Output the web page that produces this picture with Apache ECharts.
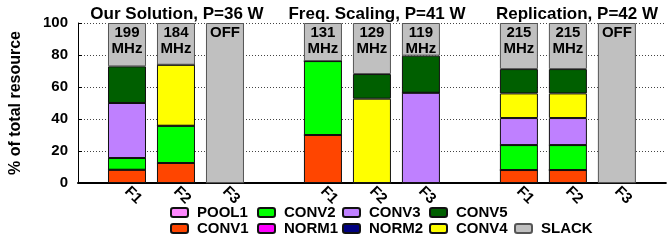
<!DOCTYPE html>
<html>
<head>
<meta charset="utf-8">
<script src="https://cdn.jsdelivr.net/npm/echarts@6/dist/echarts.min.js"></script>
<style>
  html, body { margin: 0; padding: 0; background: #fff; }
  #chart { width: 668px; height: 243px; }
</style>
</head>
<body>
<div id="chart"></div>
<script>
// slots: leading empty, then 3 groups of F1..F3 separated by empty slots
const categories = ['', 'F1', 'F2', 'F3', '', 'F1', 'F2', 'F3', '', 'F1', 'F2', 'F3', '']
const groupTitles = ['Our Solution, P=36 W', 'Freq. Scaling, P=41 W', 'Replication, P=42 W']
const freqLabels = ['', '199\nMHz', '184\nMHz', 'OFF', '', '131\nMHz', '129\nMHz', '119\nMHz', '', '215\nMHz', '215\nMHz', 'OFF', '']

// % of total resource per layer, bottom to top
const conv1 = [null, 8.3, 12.5, 0, null, 30.0, 0, 0, null, 8.1, 8.1, 0, null]
const pool1 = [null, 0, 0, 0, null, 0, 0, 0, null, 0, 0, 0, null]
const norm1 = [null, 0, 0, 0, null, 0, 0, 0, null, 0, 0, 0, null]
const conv2 = [null, 7.3, 23.3, 0, null, 46.2, 0, 0, null, 15.6, 15.6, 0, null]
const norm2 = [null, 0, 0, 0, null, 0, 0, 0, null, 0, 0, 0, null]
const conv3 = [null, 34.4, 0, 0, null, 0, 0, 56.4, null, 16.9, 16.9, 0, null]
const conv4 = [null, 0, 38.1, 0, null, 0, 52.7, 0, null, 15.4, 15.4, 0, null]
const conv5 = [null, 22.9, 0, 0, null, 0, 15.4, 23.2, null, 15.2, 15.2, 0, null]
const slack = [null, 27.1, 26.1, 100, null, 23.8, 31.9, 20.4, null, 28.8, 28.8, 100, null]

const font = "'Liberation Sans', Arial, Helvetica, sans-serif"

const layers = [
  { name: 'CONV1', data: conv1, color: '#ff4500' },
  { name: 'POOL1', data: pool1, color: '#ff88ff' },
  { name: 'NORM1', data: norm1, color: '#ff00ff' },
  { name: 'CONV2', data: conv2, color: '#00ff00' },
  { name: 'NORM2', data: norm2, color: '#000080' },
  { name: 'CONV3', data: conv3, color: '#bf80ff' },
  { name: 'CONV4', data: conv4, color: '#ffff00' },
  { name: 'CONV5', data: conv5, color: '#005f00' },
  { name: 'SLACK', data: slack, color: '#c0c0c0' }
]

// legend is laid out column-major in two rows, like the original key
const legendSpots = [
  ['POOL1', 170, 205], ['CONV1', 170, 221],
  ['CONV2', 257, 205], ['NORM1', 257, 221],
  ['CONV3', 342, 205], ['NORM2', 342, 221],
  ['CONV5', 429, 205], ['CONV4', 429, 221],
  ['SLACK', 514, 221]
]

const chart = echarts.init(document.getElementById('chart'), null, { renderer: 'canvas' })

const series = layers.map(l => ({
  name: l.name,
  type: 'bar',
  stack: 'total',
  barWidth: 38,
  data: l.data,
  itemStyle: {
    color: l.color,
    borderColor: l.name === 'SLACK' ? '#555' : '#111',
    borderWidth: 1
  },
  label: l.name === 'SLACK' ? {
    show: true,
    position: 'insideTop',
    distance: 2,
    color: '#000',
    fontFamily: font,
    fontWeight: 'bold',
    fontSize: 15,
    lineHeight: 16,
    formatter: p => freqLabels[p.dataIndex]
  } : { show: false },
  emphasis: { disabled: true }
}))

const option = {
  animation: false,
  grid: { left: 77, right: -9, top: 23, bottom: 60 },
  legend: legendSpots.map(s => ({
    data: [s[0]],
    left: s[1],
    top: s[2],
    padding: 0,
    itemWidth: 17,
    itemHeight: 9,
    selectedMode: false,
    textStyle: {
      fontFamily: font,
      fontWeight: 'bold',
      fontSize: 15,
      color: '#000',
      padding: [0, 0, 0, 4]
    }
  })),
  graphic: groupTitles.map((t, i) => ({
    type: 'text',
    x: 177 + i * 200,
    y: 6,
    style: {
      text: t,
      textAlign: 'center',
      textVerticalAlign: 'top',
      font: "bold 17px 'Liberation Sans', Arial, sans-serif",
      fill: '#000'
    }
  })),
  xAxis: {
    type: 'category',
    data: categories,
    boundaryGap: false,
    axisLine: { lineStyle: { color: '#000', width: 2 } },
    axisTick: { show: false },
    axisLabel: {
      interval: 0,
      rotate: -45,
      margin: 6,
      color: '#000',
      fontFamily: font,
      fontWeight: 'bold',
      fontSize: 15
    }
  },
  yAxis: {
    type: 'value',
    min: 0,
    max: 100,
    interval: 20,
    name: '% of total resource',
    nameLocation: 'middle',
    nameGap: 54,
    nameTextStyle: {
      fontFamily: font,
      fontWeight: 'bold',
      fontSize: 16,
      color: '#000'
    },
    axisLine: { show: true, lineStyle: { color: '#000', width: 1 } },
    axisTick: { show: true, inside: true, length: 4, lineStyle: { color: '#000' } },
    axisLabel: {
      margin: 10,
      color: '#000',
      fontFamily: font,
      fontWeight: 'bold',
      fontSize: 15
    },
    splitLine: { show: true, lineStyle: { color: '#444', type: [1, 2], width: 1 } }
  },
  series
}

chart.setOption(option)
</script>
</body>
</html>
